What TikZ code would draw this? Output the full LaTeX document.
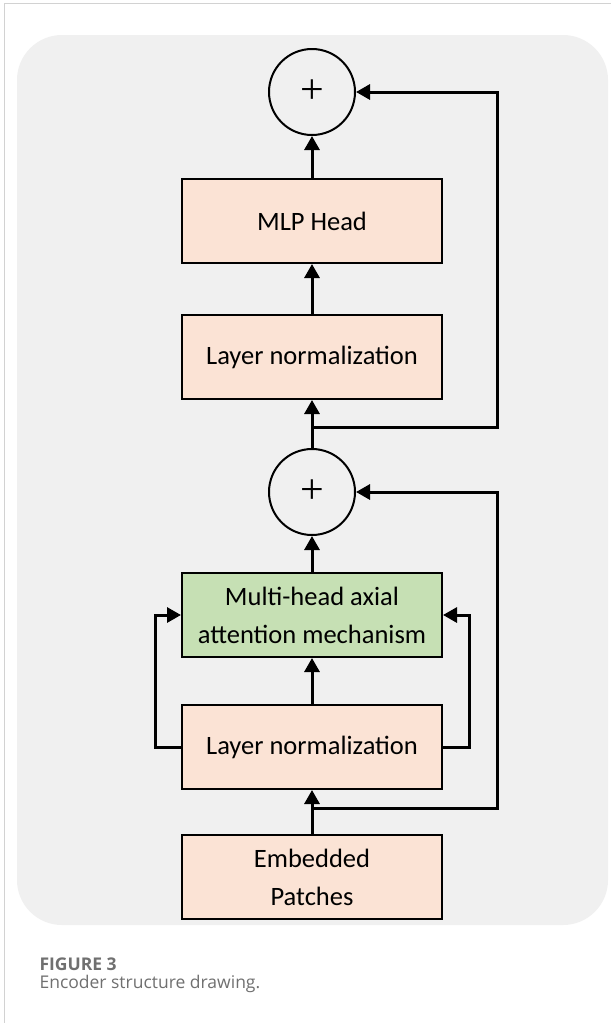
\documentclass[tikz,border=0pt]{standalone}
\usepackage{fontspec}
\setmainfont{Carlito}
\newfontfamily\capfont{Open Sans}
\newfontfamily\plusfont{Liberation Serif}
\usetikzlibrary{arrows.meta,positioning}
\definecolor{panelgray}{HTML}{F0F0F0}
\definecolor{framegray}{HTML}{D2D2D2}
\definecolor{peach}{HTML}{FBE3D5}
\definecolor{leaf}{HTML}{C6E0B4}
\definecolor{capgray}{HTML}{707070}
\tikzset{
    block/.style={draw,line width=2pt,fill=peach,minimum width=260pt,minimum height=84pt,align=center,
        font=\fontsize{26.5}{38}\selectfont},
    adder/.style={circle,draw,line width=2pt,minimum size=86pt,inner sep=0pt,font=\plusfont\fontsize{42}{42}\selectfont},
    pre/.style={-{Triangle[length=14pt,width=15pt]},line width=3pt},
    loop/.style={-{Triangle[length=14pt,width=15pt]},line width=3pt},
    caption/.style={anchor=base west,text=capgray,font=\capfont\fontsize{17.5}{20}\selectfont}
}

\begin{document}
\begin{tikzpicture}[x=1pt,y=-1pt]

    \useasboundingbox (0,0) rectangle (611,1023);
    \fill[white] (0,0) rectangle (611,1023);
    \draw[framegray,line width=1pt] (4,1023) -- (4,3) -- (611,3);
    \fill[panelgray,rounded corners=45pt] (17,35) rectangle (608,925);

    \node[adder] (add1) at (312,92)                         {+};
    \node[block] (mlp)  [below=42pt of add1]                {MLP Head};
    \node[block] (ln1)  [below=50pt of mlp]                 {Layer normalization};
    \node[adder] (add2) [below=48pt of ln1]                 {+};
    \node[block] (mha)  [below=36pt of add2,fill=leaf]      {Multi-head axial\\attention mechanism};
    \node[block] (ln2)  [below=46pt of mha]                 {Layer normalization};
    \node[block] (emb)  [below=44pt of ln2]                 {Embedded\\Patches};

    \coordinate (split1) at (312,427);
    \coordinate (split2) at (312,808);

    % main column
    \draw[pre] (emb)  -- (ln2);
    \draw[pre] (ln2)  -- (mha);
    \draw[pre] (mha)  -- (add2);
    \draw[pre] (add2) -- (ln1);
    \draw[pre] (ln1)  -- (mlp);
    \draw[pre] (mlp)  -- (add1);

    % residual connections
    \draw[loop] (split2) -- ++(185pt,0) |- (add2.east);
    \draw[loop] (split1) -- ++(185pt,0) |- (add1.east);
    \draw[loop] (ln2.west) -- ++(-26pt,0) |- (mha.west);
    \draw[loop] (ln2.east) -- ++(26pt,0) |- (mha.east);

    \node[caption] (figno)  at (36,970) {\bfseries FIGURE 3};
    \node[caption] (figcap) at (36,988) {Encoder structure drawing.};

\end{tikzpicture}
\end{document}
